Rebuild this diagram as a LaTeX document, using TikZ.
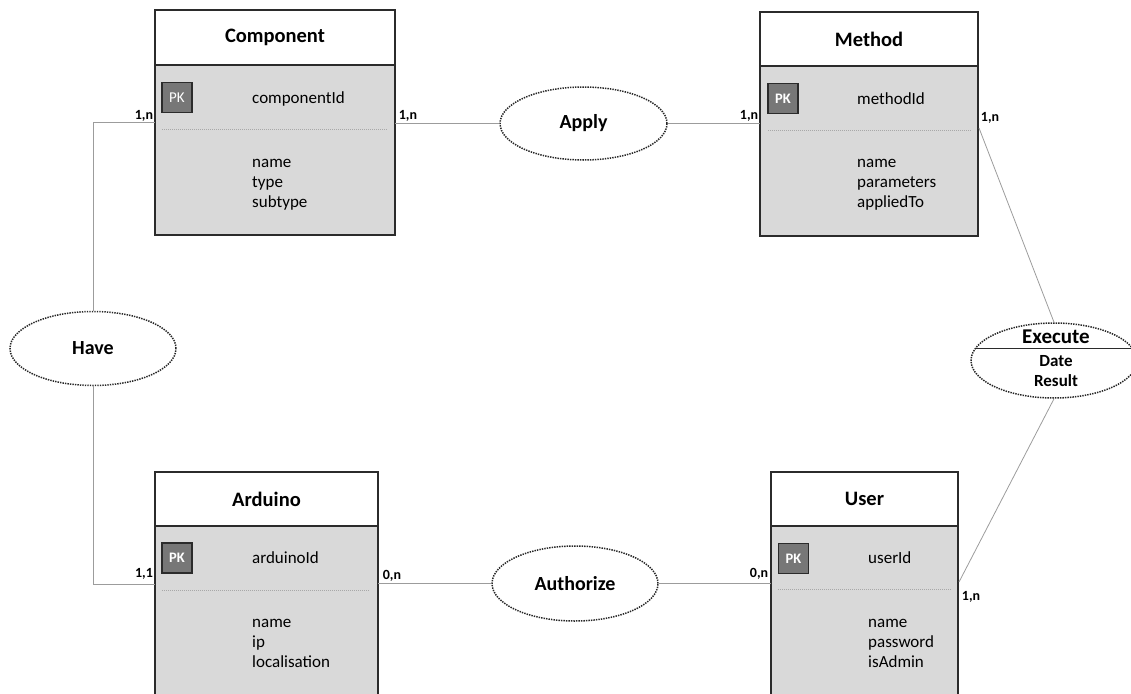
\documentclass[tikz,border=0pt]{standalone}
\usepackage{fontspec}
\setmainfont{Carlito}
\usetikzlibrary{shapes.geometric}

\definecolor{boxgray}{HTML}{D9D9D9}
\definecolor{pkgray}{HTML}{777777}
\definecolor{edgegray}{HTML}{2B2B2B}
\definecolor{linkgray}{HTML}{9C9C9C}
\definecolor{sepgray}{HTML}{A8A8A8}

\tikzset{
	head/.style={draw=edgegray,line width=1.4pt,fill=white,anchor=north west,inner sep=0pt,outer sep=0pt,
		font=\bfseries\fontsize{20.5}{24}\selectfont},
	body/.style={draw=edgegray,line width=1.4pt,fill=boxgray,anchor=north west,inner sep=0pt,outer sep=0pt},
	pkbox/.style={draw=edgegray,line width=1.2pt,fill=pkgray,text=white,minimum size=30pt,inner sep=0pt,
		font=\fontsize{15}{18}\selectfont},
	attr/.style={anchor=base west,inner sep=0pt,font=\fontsize{17}{20}\selectfont,text=black},
	sep/.style={draw=sepgray,line width=0.6pt,dash pattern=on 1pt off 1pt},
	rel/.style={ellipse,draw=black!85,line width=1.5pt,dash pattern=on 1.4pt off 1.1pt,fill=white,
		minimum width=166pt,minimum height=74pt,inner sep=0pt,font=\bfseries\fontsize{20}{24}\selectfont},
	link/.style={draw=linkgray,line width=0.8pt},
	card/.style={inner sep=0pt,font=\bfseries\fontsize{14}{16}\selectfont}
}

\begin{document}
\begin{tikzpicture}[x=1pt,y=-1pt]
	\useasboundingbox (0,0) rectangle (1131,693);
	\clip (0,0) rectangle (1131,693);

	% entities
	\node[head,minimum width=240pt,minimum height=55pt] (comp) at (155,10) {Component};
	\node[body,minimum width=240pt,minimum height=170pt] (comp-b) at (comp.south west) {};
	\node[head,minimum width=218pt,minimum height=54pt] (meth) at (760,12) {Method};
	\node[body,minimum width=218pt,minimum height=170pt] (meth-b) at (meth.south west) {};
	\node[head,minimum width=223pt,minimum height=54pt] (ard) at (155,472) {Arduino};
	\node[body,minimum width=223pt,minimum height=220pt] (ard-b) at (ard.south west) {};
	\node[head,minimum width=187pt,minimum height=54pt] (user) at (771,472) {User};
	\node[body,minimum width=187pt,minimum height=220pt] (user-b) at (user.south west) {};

	% keys and attributes
	\node[pkbox] (comp-pk) at (177,97.5) {PK};
	\node[attr] (comp-id) at (252,103) {componentId};
	\draw[sep] (162,129) -- (387,129);
	\foreach \t [count=\i] in {name,type,subtype}
		\node[attr] at (252,147+20*\i) {\t};

	\node[pkbox,font=\bfseries\fontsize{14.5}{18}\selectfont] (meth-pk) at (783,98.5) {PK};
	\node[attr] (meth-id) at (857,104) {methodId};
	\draw[sep] (768,130) -- (971,130);
	\foreach \t [count=\i] in {name,parameters,appliedTo}
		\node[attr] at (857,147+20*\i) {\t};

	\node[pkbox,font=\bfseries\fontsize{14.5}{18}\selectfont] (ard-pk) at (177,558) {PK};
	\node[attr] (ard-id) at (252,563) {arduinoId};
	\draw[sep] (162,590) -- (370,590);
	\foreach \t [count=\i] in {name,ip,localisation}
		\node[attr] at (252,607+20*\i) {\t};

	\node[pkbox,font=\bfseries\fontsize{14.5}{18}\selectfont] (user-pk) at (793.5,558.5) {PK};
	\node[attr] (user-id) at (868,563) {userId};
	\draw[sep] (778,589) -- (952,589);
	\foreach \t [count=\i] in {name,password,isAdmin}
		\node[attr] at (868,607+20*\i) {\t};

	% relations
	\node[rel] (have) at (93,348.5) {Have};
	\node[rel,minimum width=167pt,minimum height=73pt] (apply) at (583.5,123.5) {Apply};
	\node[rel,minimum height=75pt] (auth) at (575,583.5) {Authorize};
	\node[rel,minimum height=75pt] (exe) at (1054,360.5) {};
	\draw[edgegray,line width=0.8pt] (exe.171) -- (exe.9);
	\node[anchor=base,inner sep=0pt,font=\bfseries\fontsize{21}{24}\selectfont] (exe-t) at (1056,343) {Execute};
	\node[anchor=base,inner sep=0pt,font=\bfseries\fontsize{17}{20}\selectfont] (exe-d) at (1056,366) {Date};
	\node[anchor=base,inner sep=0pt,font=\bfseries\fontsize{17}{20}\selectfont] (exe-r) at (1056,386) {Result};

	% connector ends on the boxes
	\coordinate (comp-w) at (155,122);
	\coordinate (comp-e) at (395,123.5);
	\coordinate (meth-w) at (760,123.5);
	\coordinate (meth-e) at (979,128);
	\coordinate (ard-w) at (155,584);
	\coordinate (ard-e) at (378,583.5);
	\coordinate (user-w) at (771,583.5);
	\coordinate (user-e) at (959,582);

	\draw[link] (comp-w) -| (have.north);
	\draw[link] (ard-w) -| (have.south);
	\draw[link] (comp-e) -- (apply.west);
	\draw[link] (apply.east) -- (meth-w);
	\draw[link] (ard-e) -- (auth.west);
	\draw[link] (auth.east) -- (user-w);
	\draw[link] (meth-e) -- (exe.north);
	\draw[link] (exe.south) -- (user-e);

	% cardinalities
	\node[card] at (144,116) {1,n};
	\node[card] at (408,116) {1,n};
	\node[card] at (749,116) {1,n};
	\node[card] at (990,118) {1,n};
	\node[card] at (144,574) {1,1};
	\node[card] at (392,576) {0,n};
	\node[card] at (759,574) {0,n};
	\node[card] at (971,597) {1,n};
\end{tikzpicture}
\end{document}
